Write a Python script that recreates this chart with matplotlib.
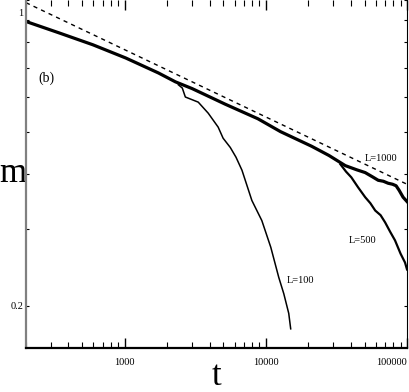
import numpy as np
import matplotlib.pyplot as plt
from matplotlib.ticker import FixedLocator, NullFormatter
import matplotlib.transforms as mtrans

# values (t, m)
t_1000 = [200, 343, 595, 1016, 1734, 2286, 3011, 5140, 8790, 12700, 21080,
          28000, 36570, 44000, 50560, 57000, 62500, 68000, 73500, 79000, 83700,
          88000, 93800, 100000]
m_1000 = [0.893, 0.841, 0.790, 0.737, 0.681, 0.650, 0.627, 0.578, 0.535, 0.500, 0.463,
          0.441, 0.418, 0.409, 0.403, 0.394, 0.387, 0.385, 0.381, 0.379, 0.376,
          0.367, 0.354, 0.346]

t_500 = [33750, 37000, 40340, 45000, 50560, 55000, 59540, 65000, 70000, 76000, 82250, 90000, 96800, 100000]
m_500 = [0.421, 0.405, 0.393, 0.373, 0.354, 0.343, 0.330, 0.322, 0.310, 0.295, 0.282, 0.263, 0.251, 0.242]

t_100 = [2400, 2560, 2690, 3320, 3907, 4595, 4980, 5600, 6146, 6776, 7962, 9367,
         10840, 12350, 13400, 14530, 15000]
m_100 = [0.640, 0.629, 0.600, 0.584, 0.551, 0.512, 0.483, 0.460, 0.437, 0.408, 0.348, 0.313,
         0.272, 0.232, 0.213, 0.192, 0.177]

t_fit = [200, 100000]
m_fit = [0.986, 0.379]

plt.rcParams['font.family'] = ['Liberation Serif', 'DejaVu Serif']

fig = plt.figure(figsize=(4.09, 3.92), dpi=100)
ax = fig.add_axes([26 / 409, 44 / 392, (407 - 26) / 409, 348 / 392])

ax.plot(t_fit, m_fit, color='black', lw=1.0, dashes=(3, 3))
ax.plot(t_1000, m_1000, color='black', lw=2.3)
ax.plot(t_500, m_500, color='black', lw=1.6)
ax.plot(t_100, m_100, color='black', lw=1.1)

ax.set_xscale('log')
ax.set_yscale('log')
ax.set_xlim(200, 100000)
ax.set_ylim(0.16, 1.0)

ax.set_xticks([1000, 10000, 100000])
ax.set_xticklabels(['1000', '10000', '100000'])
ax.set_yticks([0.2, 1.0])
ax.set_yticklabels(['0.2', '1'])
ax.yaxis.set_minor_locator(FixedLocator([0.3, 0.4, 0.5, 0.6, 0.7, 0.8, 0.9]))
ax.yaxis.set_minor_formatter(NullFormatter())

ax.tick_params(axis='x', which='both', direction='in', top=True, labelsize=7.5, pad=7)
ax.tick_params(axis='x', which='major', length=7, width=1)
ax.tick_params(axis='x', which='minor', length=4.5, width=0.8)
ax.tick_params(axis='y', which='both', direction='in', right=True, labelsize=7.5,
               length=2.5, width=0.8, pad=2)

ax.get_xticklabels()[-1].set_ha('right')
lab1 = ax.get_yticklabels()[-1]
lab1.set_transform(lab1.get_transform() + mtrans.ScaledTranslation(0, -12 / 100, fig.dpi_scale_trans))

ax.spines['top'].set_visible(False)
ax.spines['left'].set_color('#808080')
ax.spines['left'].set_linewidth(1.6)
ax.spines['bottom'].set_linewidth(1.6)
ax.spines['right'].set_linewidth(0.8)

ax.set_xlabel('t', fontsize=25, labelpad=-5)
ax.set_ylabel('m', fontsize=25, rotation=0, labelpad=-2, va='center')

ax.text(278, 0.663, '(b)', fontsize=10, ha='center', va='center')
ax.text(65600, 0.435, 'L=1000', fontsize=7.5, ha='center', va='center')
ax.text(48200, 0.282, 'L=500', fontsize=7.5, ha='center', va='center')
ax.text(17600, 0.228, 'L=100', fontsize=7.5, ha='center', va='center')

fig.savefig('out.png', dpi=100)
